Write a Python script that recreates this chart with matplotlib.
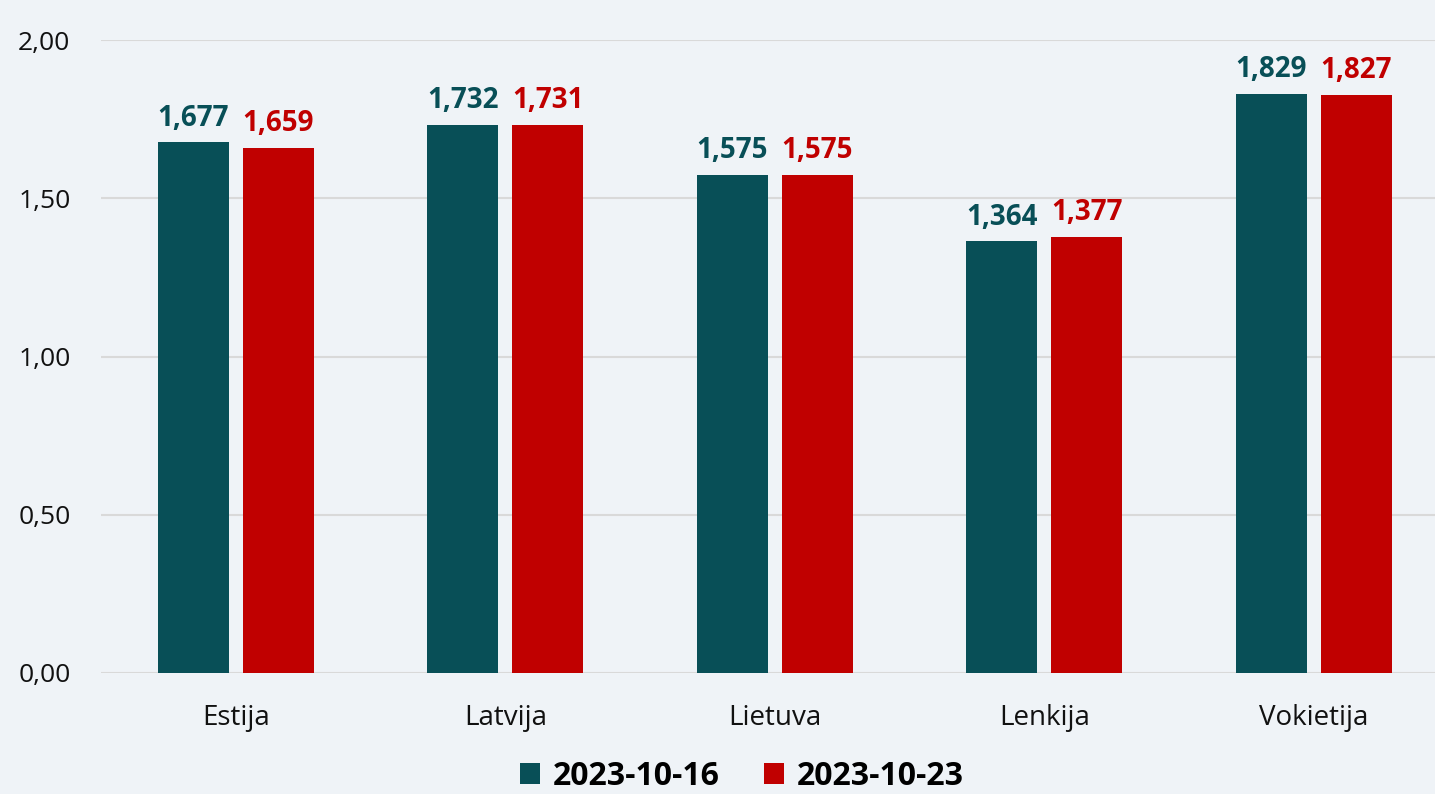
import matplotlib.pyplot as plt
import numpy as np

countries = ["Estija", "Latvija", "Lietuva", "Lenkija", "Vokietija"]
week1 = [1.677, 1.732, 1.575, 1.364, 1.829]
week2 = [1.659, 1.731, 1.575, 1.377, 1.827]
labels = ["2023-10-16", "2023-10-23"]
yticks = [0.0, 0.5, 1.0, 1.5, 2.0]

TEAL = "#084f57"
RED = "#c00000"
BG = "#eff3f7"

plt.rcParams["font.family"] = ["Open Sans", "DejaVu Sans"]

fig = plt.figure(figsize=(14.35, 7.94), dpi=100, facecolor=BG)
ax = fig.add_axes([0.0704, 0.1524, 0.9296, 0.7972])
ax.set_facecolor(BG)

x = np.arange(len(countries))
w = 0.263
off = 0.158
b1 = ax.bar(x - off, week1, w, color=TEAL, label=labels[0], zorder=3)
b2 = ax.bar(x + off, week2, w, color=RED, label=labels[1], zorder=3)

def fmt(v):
    return f"{v:.3f}".replace(".", ",")

for bars, vals, c in [(b1, week1, TEAL), (b2, week2, RED)]:
    for bar, v in zip(bars, vals):
        ax.annotate(fmt(v), (bar.get_x() + bar.get_width() / 2, v),
                    xytext=(0, 7), textcoords="offset points",
                    ha="center", va="bottom", fontsize=20, fontweight="bold", color=c)

ax.set_ylim(0, 2.0)
ax.set_xlim(-0.5, 4.45)
ax.set_yticks(yticks)
ax.set_yticklabels([f"{t:.2f}".replace(".", ",") for t in yticks])
ax.set_xticks(x)
ax.set_xticklabels(countries)
ax.tick_params(axis="y", length=0, labelsize=19, colors="#111111", pad=22)
ax.tick_params(axis="x", length=0, labelsize=20, colors="#111111", pad=22)
ax.grid(axis="y", color="#d9d9d9", linewidth=1.5, zorder=0)
for s in ax.spines.values():
    s.set_visible(False)

# legend sits at the bottom, a bit right of centre like the original
fig.legend(loc="lower center", bbox_to_anchor=(0.517, -0.035), ncol=2, frameon=False,
           prop={"size": 23, "weight": "bold"}, handlelength=0.62, handleheight=0.62,
           handletextpad=0.4, columnspacing=1.4)

fig.savefig("out.png", dpi=100, facecolor=BG)
